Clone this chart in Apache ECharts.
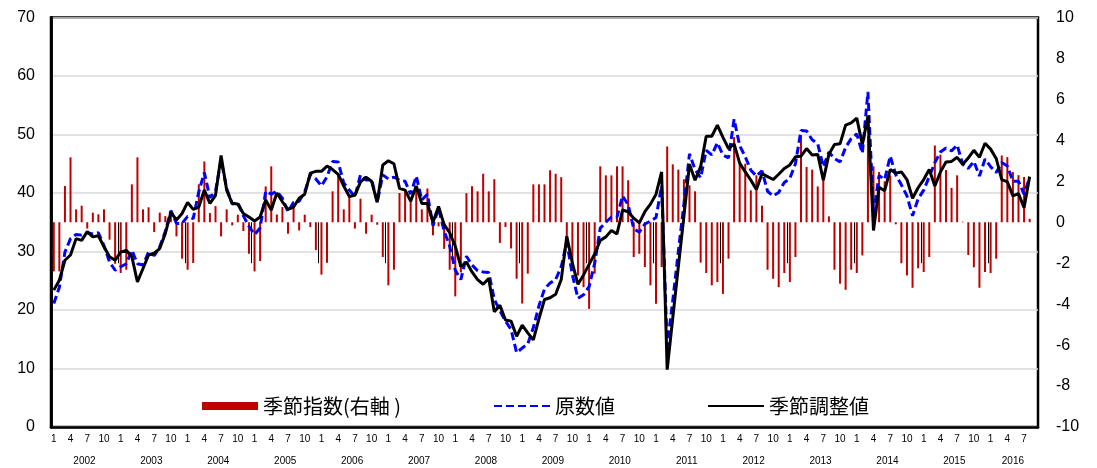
<!DOCTYPE html>
<html>
<head>
<meta charset="utf-8">
<script src="https://cdn.jsdelivr.net/npm/echarts@6/dist/echarts.min.js"></script>
<style>
  html, body { margin: 0; padding: 0; background: #fff; }
  #chart { width: 1097px; height: 468px; }
</style>
</head>
<body>
<div id="chart"></div>
<script>
// Monthly series, January 2002 to August 2016
const startYear = 2002;
const monthSlots = 177;              // axis runs Jan 2002 .. Sep 2016
const monthTickLabels = [1, 4, 7, 10];

// 季節指数 (right axis)
const seasonalIndex = [
  -2.4, -2.4, 1.77, 3.17, 0.63, 0.81, -0.31, 0.47, 0.39, 0.63, -0.85, -2.03,
  -2.48, -2.32, 1.85, 3.17, 0.63, 0.73, -0.48, 0.47, 0.3, 0.5, -0.69, -1.78,
  -2.32, -1.99, 1.85, 2.97, 0.45, 0.79, -0.69, 0.63, -0.15, 0.37, -0.43, -1.54,
  -2.4, -1.9, 1.75, 2.73, 0.38, 0.74, -0.56, 0.86, -0.4, 0.37, -0.23, -1.36,
  -2.56, -1.98, 1.51, 2.3, 0.63, 1.3, -0.31, 1.15, -0.56, 0.37, -0.12, -1.7,
  -3.08, -2.32, 1.43, 1.5, 1.12, 1.65, 0.63, 1.65, -0.64, -0.2, -1.3, -2.32,
  -3.62, -2.45, 1.42, 1.76, 1.51, 2.37, 1.51, 2.1, -1.01, -0.23, -1.28, -2.76,
  -3.97, -2.51, 1.85, 1.85, 1.85, 2.54, 2.37, 2.2, -0.7, -2.03, -2.6, -3.17,
  -4.23, -2.51, 2.73, 2.29, 2.29, 2.73, 2.73, 2.05, -1.7, -1.54, -2.19, -3.08,
  -3.98, -2.19, 3.7, 2.83, 2.57, 2.1, 1.8, 1.51, -1.97, -2.48, -3.08, -2.92,
  -3.5, -1.78, 4.16, 2.86, 2.86, 1.56, 2.29, 0.81, -2.32, -2.76, -3.17, -2.48,
  -2.92, -1.7, 4.24, 2.7, 2.57, 1.75, 2.08, 0.29, -2.32, -3.0, -3.3, -2.32,
  -2.48, -1.62, 4.2, 2.73, 2.45, 2.0, 2.29, -0.1, -2.0, -2.6, -3.2, -2.25,
  -2.43, -1.7, 3.75, 3.3, 2.55, 1.68, 2.29, 0.03, -1.6, -2.2, -3.2, -2.43,
  -2.48, -1.78, 3.26, 3.18, 2.45, 2.3, 2.21, 0.17
];

// 原数値
const rawValues = [
  21.1, 23.9, 29.9, 32.2, 32.9, 32.8, 33.2, 33.0, 33.2, 31.0, 28.2, 26.8,
  27.4, 27.9, 30.2, 27.9, 27.7, 29.9, 29.3, 30.8, 33.4, 37.0, 34.8, 34.8,
  36.0, 35.6, 40.2, 43.5, 39.2, 40.3, 45.6, 40.8, 38.1, 38.4, 36.1, 34.3,
  32.9, 34.0, 40.3, 39.8, 40.3, 39.1, 36.8, 38.4, 38.6, 40.2, 43.1, 42.4,
  41.2, 42.8, 45.4, 45.3, 41.7, 40.5, 39.4, 43.1, 42.2, 42.3, 38.4, 43.1,
  42.4, 42.7, 42.2, 42.0, 39.8, 42.9, 38.8, 39.8, 34.4, 37.4, 33.5, 30.9,
  26.8, 25.2, 29.2, 27.7, 26.7, 26.5, 26.4, 21.8, 19.9, 18.1, 16.7, 12.7,
  13.5, 14.2, 17.0, 20.7, 23.6, 24.6, 25.2, 27.4, 31.6, 26.0, 22.0, 22.6,
  24.0, 28.0, 34.0, 35.0, 35.9, 35.9, 39.5, 38.0, 33.9, 33.3, 34.7, 35.2,
  35.8, 41.2, 13.8, 21.6, 30.0, 38.1, 46.7, 44.0, 42.6, 47.3, 46.5, 48.6,
  46.5, 46.0, 52.6, 48.1, 46.2, 43.9, 42.9, 43.8, 40.3, 39.5, 40.1, 41.8,
  42.5, 45.0, 50.7, 50.6, 49.1, 48.4, 44.5, 47.0, 45.9, 45.3, 47.8, 49.3,
  50.1, 46.8, 57.3, 36.6, 43.0, 42.3, 46.3, 43.1, 41.4, 39.5, 36.1, 39.0,
  40.5, 42.8, 45.2, 47.0, 47.7, 47.2, 48.2, 44.9, 44.2, 45.4, 42.9, 45.8,
  44.5, 43.5, 45.2, 44.6, 42.0, 42.0, 39.8, 42.7
];

// 季節調整値
const adjustedValues = [
  23.4, 25.1, 28.5, 29.4, 32.2, 31.9, 33.4, 32.5, 32.7, 30.8, 29.1, 28.5,
  29.9, 30.2, 29.1, 24.8, 27.1, 29.4, 29.7, 30.5, 33.1, 36.7, 35.4, 36.5,
  38.4, 37.2, 37.6, 40.5, 38.2, 39.6, 46.4, 40.5, 38.2, 38.1, 36.5, 35.9,
  35.2, 35.9, 38.8, 37.1, 40.0, 38.5, 37.2, 37.6, 39.1, 39.8, 43.4, 43.7,
  43.7, 44.6, 44.0, 43.2, 41.2, 39.4, 39.6, 41.9, 42.7, 42.0, 38.4, 44.8,
  45.5, 45.0, 40.8, 40.5, 38.6, 41.2, 38.2, 38.2, 35.0, 37.7, 34.6, 33.2,
  30.9, 27.4, 28.2, 26.5, 25.2, 24.4, 25.4, 19.7, 20.8, 18.3, 18.1, 15.5,
  17.4, 16.1, 14.9, 18.5, 21.8, 22.1, 22.7, 25.2, 32.6, 28.0, 24.4, 26.0,
  27.8, 29.6, 31.9, 32.5, 33.6, 33.0, 37.1, 36.8, 35.7, 34.9, 36.8, 38.1,
  39.8, 43.6, 9.8, 18.6, 27.4, 36.0, 44.9, 42.2, 44.5, 49.7, 49.7, 51.6,
  49.5, 47.6, 48.4, 45.1, 43.6, 42.2, 40.6, 43.3, 42.8, 42.3, 43.2, 44.2,
  44.8, 46.2, 46.3, 47.6, 46.5, 46.6, 42.2, 46.6, 48.3, 48.4, 51.6, 52.0,
  52.8, 48.3, 53.1, 33.6, 41.0, 40.4, 44.0, 43.4, 43.6, 42.3, 39.1, 40.9,
  42.3, 44.0, 41.2, 43.6, 45.3, 45.4, 46.1, 44.9, 46.0, 47.3, 46.1, 48.5,
  47.5, 45.9, 42.3, 41.9, 39.5, 39.9, 37.5, 42.8
];

const seriesNames = ['季節指数(右軸 )', '原数値', '季節調整値'];

// Category slots: month number of each slot
const monthCategories = [];
for (let i = 0; i < monthSlots; i++) monthCategories.push(String(i % 12 + 1));

// Year labels centred under each year's span of slots
const yearLabels = [];
for (let s = 0; s < monthSlots; s += 12) {
  const end = Math.min(s + 12, monthSlots);
  yearLabels.push({ text: String(startYear + s / 12), center: (s + end) / 2 });
}
function yearAt(v) {
  for (const y of yearLabels) if (Math.abs(y.center - v) < 0.01) return y.text;
  return '';
}

const latin = '"Liberation Sans", Arial, sans-serif';
const cjk = '"Noto Sans CJK JP", "Liberation Sans", sans-serif';

const chart = echarts.init(document.getElementById('chart'), null, { renderer: 'canvas' });
chart.setOption({
  animation: false,
  backgroundColor: '#fff',
  grid: {
    left: 51, right: 59, top: 17.5, bottom: 41,
    show: true, borderColor: '#000', borderWidth: 2.5, backgroundColor: 'transparent'
  },
  legend: {
    left: 197, top: 391,
    itemGap: 92, itemWidth: 56, itemHeight: 8,
    textStyle: { fontFamily: cjk, fontSize: 20, color: '#000' },
    data: [
      { name: seriesNames[0], icon: 'rect' },
      { name: seriesNames[1], itemStyle: { opacity: 0 } },
      { name: seriesNames[2], itemStyle: { opacity: 0 } }
    ]
  },
  xAxis: [
    {
      type: 'category', data: monthCategories, boundaryGap: true, position: 'bottom',
      axisLine: { lineStyle: { color: '#000', width: 2.5 } },
      axisTick: { show: false },
      axisLabel: {
        interval: (i, v) => monthTickLabels.includes(Number(v)),
        fontFamily: latin, fontSize: 10, color: '#000', margin: 7
      },
      splitLine: { show: false }
    },
    {
      // year separators below the axis
      type: 'value', min: 0, max: monthSlots, interval: 12, position: 'bottom',
      axisLine: { show: false },
      axisTick: { show: true, length: 41, lineStyle: { color: '#000', width: 1 } },
      axisLabel: { show: false },
      splitLine: { show: false }
    },
    {
      // year captions
      type: 'value', min: 0, max: monthSlots, interval: 1.5, position: 'bottom',
      axisLine: { show: false },
      axisTick: { show: false },
      axisLabel: { formatter: yearAt, fontFamily: latin, fontSize: 10, color: '#000', margin: 29 },
      splitLine: { show: false }
    }
  ],
  yAxis: [
    {
      type: 'value', min: 0, max: 70, interval: 10, position: 'left',
      axisLine: { show: true, lineStyle: { color: '#000', width: 2.5 } },
      axisTick: { show: false },
      axisLabel: { fontFamily: latin, fontSize: 16, color: '#000', margin: 16 },
      splitLine: { show: true, lineStyle: { color: '#d9d9d9', width: 1.5 } }
    },
    {
      type: 'value', min: -10, max: 10, interval: 2, position: 'right',
      axisLine: { show: true, lineStyle: { color: '#000', width: 2.5 } },
      axisTick: { show: false },
      axisLabel: { fontFamily: latin, fontSize: 16, color: '#000', margin: 18 },
      splitLine: { show: false }
    }
  ],
  series: [
    {
      name: seriesNames[0], type: 'bar', xAxisIndex: 0, yAxisIndex: 1,
      data: seasonalIndex, barWidth: 2,
      itemStyle: { color: '#C00000' }
    },
    {
      name: seriesNames[1], type: 'line', xAxisIndex: 0, yAxisIndex: 0,
      data: rawValues, symbol: 'none', smooth: false,
      lineStyle: { color: '#0000FF', width: 3, type: [8, 4] },
      itemStyle: { color: '#0000FF' }
    },
    {
      name: seriesNames[2], type: 'line', xAxisIndex: 0, yAxisIndex: 0,
      data: adjustedValues, symbol: 'none', smooth: false,
      lineStyle: { color: '#000', width: 3 },
      itemStyle: { color: '#000' }
    }
  ]
});
</script>
</body>
</html>
